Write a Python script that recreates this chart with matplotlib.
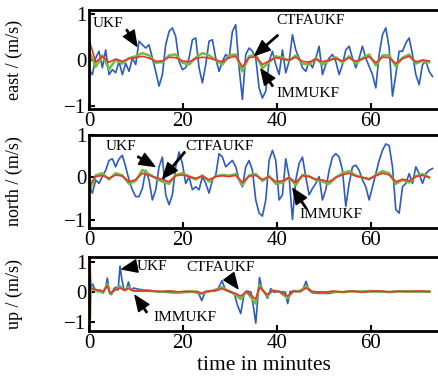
import matplotlib
matplotlib.use('Agg')
import matplotlib.pyplot as plt
import numpy as np

plt.rcParams['font.family'] = ['Liberation Serif', 'DejaVu Serif']
plt.rcParams['mathtext.fontset'] = 'stix'

# sampling steps (minutes)
dt_ukf = 0.71
dt_filt = 1.42

# ---- east ----
east_ukf = [-0.20, -0.32, 0.04, 0.19, -0.17, 0.22, -0.32, -0.21, -0.28, -0.03, -0.32,
            -0.07, -0.25, 0.04, -0.10, 0.41, 0.33, 0.26, 0.33, 0.04, -0.25,
            -0.57, -0.32, 0.33, 0.62, 0.70, 0.51, -0.03, -0.21, -0.17, 0.04,
            0.44, 0.48, -0.17, -0.50, -0.10, 0.41, 0.44, 0.04, -0.25, -0.03,
            0.12, 0.04, 0.62, 0.77, -0.17, -0.86, 0.12, 0.26, 0.19, 0.04,
            -0.61, -0.83, -0.68, -0.03, 0.19, -0.10, -0.32, 0.22, -0.28, -0.03,
            0.55, 0.22, 0.04, -0.17, -0.25, -0.03, -0.17, 0.04, 0.30, -0.32,
            -0.10, 0.04, 0.12, -0.03, -0.32, -0.10, 0.22, 0.30, 0.04, -0.17,
            0.04, 0.30, 0.04, -0.14, -0.32, -0.61, 0.12, 0.55, 0.70, 0.26,
            -0.79, -0.32, 0.19, 0.19, 0.37, 0.48, 0.12, -0.32, -0.54, -0.10,
            -0.03, -0.25, -0.36]
east_imm = [0.45, -0.05, 0.08, -0.05, 0.02, -0.03, 0.03, 0.05, 0.08, 0.04, -0.03,
            -0.02, 0.06, 0.05, -0.02, -0.04, 0.03, 0.06, 0.04, 0.00, -0.04,
            0.05, 0.08, -0.15, 0.05, 0.07, -0.10, -0.02, 0.05, 0.02, 0.00,
            0.06, -0.03, -0.05, 0.02, -0.04, 0.00, 0.03, -0.02, 0.05, -0.03,
            0.02, 0.07, -0.06, 0.06, 0.05, -0.08, 0.03, 0.08, -0.04, 0.00, -0.02]
east_ctfa = [0.20, -0.15, 0.10, -0.20, 0.00, -0.08, 0.04, 0.08, 0.15, 0.10, -0.06,
             -0.05, 0.10, 0.12, -0.06, -0.10, 0.05, 0.15, 0.10, 0.00, -0.10,
             0.10, 0.12, -0.25, 0.08, 0.12, -0.18, -0.05, 0.08, 0.05, -0.02,
             0.10, -0.08, -0.10, 0.04, -0.10, -0.02, 0.06, -0.06, 0.08, -0.08,
             0.04, 0.12, -0.12, 0.10, 0.10, -0.14, 0.05, 0.12, -0.08, -0.02, -0.05]

# ---- north ----
north_ukf = [-0.15, -0.37, -0.06, -0.14, 0.02, 0.17, 0.40, 0.44, 0.25, 0.44, 0.52,
             0.25, -0.06, -0.29, -0.45, -0.45, -0.26, 0.17, -0.06, -0.53, -0.29,
             0.25, 0.48, -0.41, -0.64, -0.41, 0.25, 0.60, 0.33, -0.14, 0.02,
             -0.29, -0.22, -0.29, 0.02, -0.14, -0.37, -0.06, 0.05, 0.56, 0.48,
             0.25, 0.33, 0.40, 0.25, -0.06, -0.22, 0.25, 0.40, 0.17, -0.53,
             -0.84, -0.91, -0.53, 0.40, 0.64, 0.40, -0.53, -0.41, 0.44, 0.02,
             -0.99, -0.06, 0.33, 0.48, 0.02, -0.41, -0.26, -0.14, 0.02, -0.53,
             -0.29, 0.17, 0.48, 0.56, 0.48, 0.17, -0.68, -0.14, 0.25, 0.29,
             0.17, -0.06, -0.22, -0.53, -0.22, 0.09, 0.40, 0.64, 0.79, 0.75,
             0.25, -0.76, -0.84, -0.22, -0.14, 0.09, -0.14, 0.25, 0.09, -0.14,
             0.09, 0.17, 0.21]
north_imm = [-0.20, 0.02, 0.05, -0.02, 0.06, 0.03, -0.10, -0.05, 0.10, 0.05, 0.00,
             -0.05, -0.10, 0.04, 0.06, 0.02, -0.02, 0.03, -0.05, 0.02, 0.04,
             0.02, 0.05, -0.12, 0.03, 0.05, -0.05, 0.02, -0.10, -0.08, 0.00,
             -0.12, 0.04, 0.02, -0.04, -0.06, -0.10, 0.00, 0.06, 0.10, 0.03,
             0.00, -0.03, 0.04, 0.10, 0.06, -0.10, -0.04, -0.08, 0.02, 0.05, 0.00]
north_ctfa = [-0.35, 0.05, 0.10, -0.05, 0.10, 0.05, -0.15, -0.08, 0.18, 0.08, -0.02,
              -0.10, -0.15, 0.06, 0.10, 0.03, -0.05, 0.05, -0.10, 0.03, 0.06,
              0.04, 0.08, -0.18, 0.05, 0.08, -0.08, 0.03, -0.15, -0.12, 0.00,
              -0.18, 0.06, 0.03, -0.06, -0.10, -0.15, 0.00, 0.10, 0.15, 0.05,
              0.00, -0.05, 0.06, 0.15, 0.10, -0.15, -0.06, -0.12, 0.03, 0.08, 0.00]

# ---- up ----
up_t_ukf = [0.0, 0.3, 0.8, 1.3, 1.8, 2.4, 3.0, 3.5, 3.9, 4.3, 4.8, 5.3, 5.8, 6.2,
            6.6, 7.0, 7.4, 7.9, 8.4, 8.9, 9.5, 10.5, 12, 14, 16, 18, 20, 22,
            23.3, 24.0, 24.7, 26, 27.5, 28.3, 29.0, 30.0, 31.0, 31.6, 32.3, 33.0,
            33.6, 34.5, 35.0, 35.5, 35.9, 36.3, 36.8, 37.4, 38.0, 38.7, 39.3,
            40.5, 41.8, 42.3, 42.8, 44.5, 45.6, 46.2, 46.8, 47.5, 49.0, 51.0,
            52.5, 55, 57, 60, 63, 66, 69, 72.5]
up_ukf = [0.20, 0.15, 0.25, 0.05, 0.00, 0.05, -0.05, 0.10, 0.45, 0.00, -0.10, 0.10,
          0.15, 0.05, 0.85, 0.40, 0.10, 0.05, 0.32, 0.05, 0.12, 0.08, 0.05, 0.02,
          -0.02, -0.04, -0.03, -0.02, -0.05, -0.30, -0.03, 0.02, 0.10, 0.36,
          0.08, 0.02, -0.10, -0.45, -0.73, -0.10, 0.02, -0.02, -0.50, -1.05,
          -0.30, 0.47, 0.10, -0.05, -0.22, 0.10, -0.02, 0.00, -0.02, -0.40,
          0.00, 0.00, 0.10, 0.34, 0.05, -0.04, -0.06, -0.06, -0.02, 0.00,
          0.01, 0.00, -0.01, 0.01, 0.00, 0.00]
up_t_filt = [0, 0.2, 0.4, 1, 2, 3, 3.9, 4.5, 5.5, 6.6, 7.5, 8.4, 9.5, 11, 13, 15,
             17, 19, 21, 23, 24, 25, 27, 28.3, 29.5, 31, 32.3, 33.5, 35.5, 36.3,
             37.2, 38, 39, 40.5, 42.3, 43.5, 45, 46.2, 47.5, 50, 52, 54, 56, 58,
             60, 62, 64, 66, 68, 70, 72.5]
up_imm = [0.20, 1.10, 0.10, 0.08, 0.05, 0.00, 0.20, -0.05, 0.05, 0.12, 0.05, 0.10,
          0.03, 0.02, 0.03, 0.00, 0.02, -0.01, 0.01, 0.00, -0.05, 0.01, 0.03,
          0.10, 0.02, -0.05, -0.15, 0.00, -0.25, 0.15, 0.00, -0.10, 0.03, 0.00,
          -0.15, 0.02, 0.00, 0.12, 0.00, -0.02, 0.01, -0.01, 0.02, -0.02, 0.01,
          0.02, -0.01, 0.01, 0.00, 0.02, 0.00]
up_ctfa = [0.10, -0.90, 0.15, 0.05, 0.02, -0.03, 0.25, -0.08, 0.05, 0.18, 0.04,
           0.15, 0.02, 0.03, 0.02, -0.01, 0.01, -0.02, 0.00, -0.01, -0.08, 0.00,
           0.04, 0.15, 0.03, -0.08, -0.25, 0.01, -0.40, 0.22, 0.01, -0.15, 0.04,
           0.00, -0.22, 0.02, 0.01, 0.18, -0.01, -0.03, 0.00, -0.02, 0.01, -0.01,
           0.02, 0.00, -0.02, 0.01, 0.01, 0.00, 0.00]

c_ukf = '#2d5bc0'
c_ctfa = '#6cc040'
c_imm = '#f0302a'

fig = plt.figure(figsize=(4.38, 3.85), dpi=100)
W, H = 438.0, 385.0
left = 89 / W
boxes = [(10, 109), (135, 228), (257, 331)]
ylims = [(-1.07, 1.09), (-1.19, 1.0), (-1.31, 1.15)]
ylabels = ['east / (m/s)', 'north / (m/s)', 'up / (m/s)']

axes = []
for (top, bot), yl, lab in zip(boxes, ylims, ylabels):
    ax = fig.add_axes([left, 1 - bot / H, 1 - left, (bot - top) / H])
    ax.set_xlim(0, 74.3)
    ax.set_ylim(*yl)
    ax.set_xticks([0, 20, 40, 60])
    ax.set_yticks([-1, 0, 1])
    ax.tick_params(direction='in', length=4, width=1.5, labelsize=15, pad=2)
    for s in ['left', 'bottom', 'top']:
        ax.spines[s].set_linewidth(2)
    ax.spines['right'].set_visible(False)
    ax.set_ylabel(lab, fontsize=13)
    ax.yaxis.set_label_coords(-0.19, 0.5)
    axes.append(ax)

series = [(east_ukf, east_ctfa, east_imm), (north_ukf, north_ctfa, north_imm)]
for ax, (u, c, m) in zip(axes[:2], series):
    ax.plot(np.arange(len(u)) * dt_ukf, u, color=c_ukf, lw=1.2)
    ax.plot(np.arange(len(c)) * dt_filt, c, color=c_ctfa, lw=1.8)
    ax.plot(np.arange(len(m)) * dt_filt, m, color=c_imm, lw=1.2)

ax3 = axes[2]
ax3.plot(up_t_ukf, up_ukf, color=c_ukf, lw=1.2)
ax3.plot(up_t_filt, up_ctfa, color=c_ctfa, lw=1.8)
ax3.plot(up_t_filt, up_imm, color=c_imm, lw=1.2)
ax3.set_xlabel('time in minutes', fontsize=15.5, labelpad=2)

arrow = dict(facecolor='black', edgecolor='black', width=1.0, headwidth=9,
             headlength=11, shrink=0)
# (axis, text, text pos, arrow tail, arrow head)
notes = [
    (0, 'UKF', (4.0, 0.80), (8.0, 0.66), (10.2, 0.30)),
    (0, 'CTFAUKF', (47.2, 0.85), (40.2, 0.54), (35.3, 0.10)),
    (0, 'IMMUKF', (46.6, -0.74), (39.1, -0.57), (36.6, -0.20)),
    (1, 'UKF', (6.8, 0.72), (10.4, 0.49), (14.0, 0.26)),
    (1, 'CTFAUKF', (27.9, 0.72), (20.4, 0.60), (15.7, -0.02)),
    (1, 'IMMUKF', (51.5, -0.88), (46.2, -0.72), (43.4, -0.26)),
    (2, 'UKF', (13.4, 0.82), (10.2, 0.85), (7.0, 0.75)),
    (2, 'CTFAUKF', (28.1, 0.79), (30.0, 0.46), (31.7, 0.10)),
    (2, 'IMMUKF', (20.4, -0.85), (12.3, -0.69), (9.8, -0.13)),
]
for i, txt, tp, tail, head in notes:
    ax = axes[i]
    ax.text(tp[0], tp[1], txt, fontsize=11, ha='center', va='center')
    ax.annotate('', xy=head, xytext=tail, arrowprops=arrow)

fig.savefig('out.png', dpi=100)
